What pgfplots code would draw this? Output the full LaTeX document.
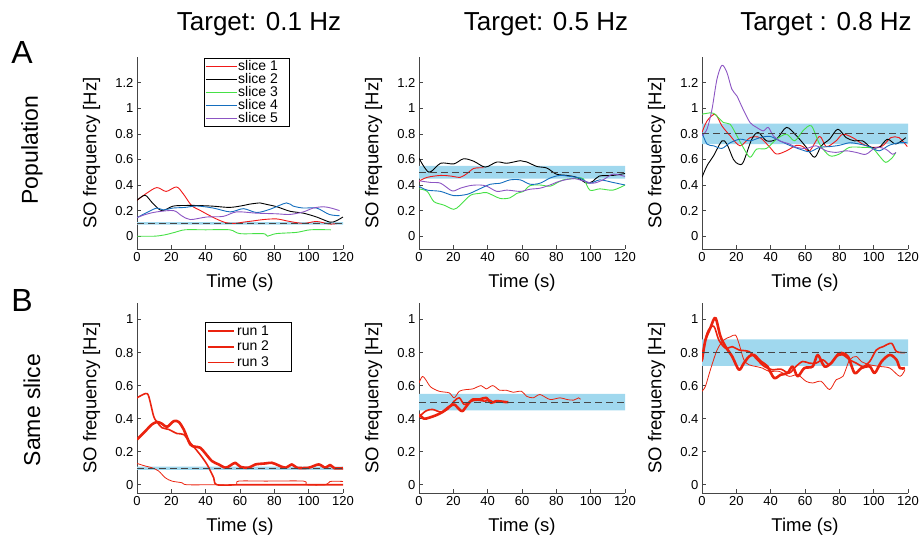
\documentclass[border=0pt]{standalone}
\usepackage{fontspec}
\setmainfont{Liberation Sans}
\usepackage{pgfplots}
\pgfplotsset{compat=1.18}

\definecolor{sRed}{RGB}{240,25,25}
\definecolor{sGreen}{RGB}{70,225,70}
\definecolor{sBlue}{RGB}{20,110,190}
\definecolor{sPurple}{RGB}{140,85,195}
\definecolor{runRed}{RGB}{235,35,15}
\definecolor{bandblue}{RGB}{160,216,238}
\definecolor{axgray}{RGB}{70,70,70}

\pgfplotsset{
  panel/.style={
    scale only axis, width=206pt,
    xmin=0, xmax=120, xtick={0,20,40,60,80,100,120},
    axis x line*=bottom, axis y line*=left,
    axis line style={-, axgray, line width=0.7pt},
    tick style={axgray, line width=0.6pt},
    tick align=inside, major tick length=4pt,
    tick label style={font=\fontsize{13}{15}\selectfont},
    /pgf/number format/assume math mode=true,
    xlabel={Time (s)}, ylabel={SO frequency [Hz]},
    every axis y label/.style={at={(axis description cs:-0.22,0.5)}, rotate=90, anchor=center, font=\fontsize{18.5}{20}\selectfont},
    every axis x label/.style={at={(axis description cs:0.5,0)}, yshift=-34pt, anchor=center, font=\fontsize{18.5}{20}\selectfont},
    every axis plot/.append style={line join=round},
  },
  popA/.style={panel, height=192pt, ymin=-0.1, ymax=1.4, ytick={0,0.2,0.4,0.6,0.8,1,1.2}},
  popB/.style={panel, height=190pt, ymin=-0.05, ymax=1.1, ytick={0,0.2,0.4,0.6,0.8,1}},
  sl/.style={smooth, tension=0.5, line width=0.9pt},
  run1/.style={smooth, tension=0.5, runRed, line width=2.6pt},
  run2/.style={smooth, tension=0.5, runRed, line width=1.6pt},
  run3/.style={smooth, tension=0.5, runRed, line width=0.8pt},
  dashline/.style={axgray, line width=1.1pt, dash pattern=on 7pt off 4pt},
}

\newcommand{\band}[2]{\addplot[draw=none, fill=bandblue, forget plot] coordinates {(0,#1) (120,#1) (120,#2) (0,#2) (0,#1)};}
\newcommand{\target}[1]{\addplot[dashline, forget plot] coordinates {(0,#1) (120,#1)};}

\begin{document}
\begin{tikzpicture}
\useasboundingbox (0,0) rectangle (922pt,-536pt);

\node[font=\fontsize{26}{28}\selectfont] at (259pt,-24pt) {Target: 0.1 Hz};
\node[font=\fontsize{26}{28}\selectfont] at (546pt,-24pt) {Target: 0.5 Hz};
\node[font=\fontsize{26}{28}\selectfont] at (826pt,-24pt) {Target : 0.8 Hz};
\node[font=\fontsize{32}{34}\selectfont] at (22pt,-52pt) {A};
\node[font=\fontsize{32}{34}\selectfont] at (22pt,-300pt) {B};
\node[rotate=90, font=\fontsize{23}{25}\selectfont] at (32pt,-150pt) {Population};
\node[rotate=90, font=\fontsize{23}{25}\selectfont] at (32pt,-410pt) {Same slice};

% ---------- A, 0.1 Hz
\begin{axis}[popA, at={(137pt,-249pt)}, anchor=south west,
  legend style={at={(rel axis cs:0.325,0.995)}, anchor=north west, draw=black, line width=0.7pt,
    font=\fontsize{14}{14}\selectfont, nodes={inner sep=1pt}, row sep=-0.6pt, inner sep=1pt},
  legend cell align=left,
  legend image code/.code={\draw[#1] (0pt,0pt) -- (31pt,0pt);}]
\band{0.09}{0.11}
\addplot[sl, sRed] coordinates {(0,0.28) (5,0.33) (11.5,0.38) (17,0.35) (23,0.385) (27,0.33) (31.8,0.24) (37,0.2) (42.5,0.16) (47,0.13) (52,0.105) (57,0.1) (62,0.11) (68,0.12) (73.6,0.13) (81.3,0.135) (89,0.115) (97,0.1) (104.6,0.115) (112,0.095) (117,0.1)};
\addplot[sl, black] coordinates {(0,0.28) (4.7,0.32) (9,0.26) (14.4,0.2) (21,0.235) (28,0.24) (34.8,0.24) (44,0.235) (54,0.225) (62,0.24) (65.4,0.25) (71.7,0.26) (75,0.25) (81.5,0.23) (89.1,0.195) (96.9,0.18) (104.6,0.15) (112.4,0.11) (116,0.12) (120,0.15)};
\addplot[sl, sGreen] coordinates {(0,0) (10,0) (16,0.01) (22,0.03) (28,0.05) (40,0.05) (54,0.05) (60,0.02) (73.6,0.02) (76,0.0) (81,0.02) (93,0.03) (101,0.05) (113,0.05)};
\addplot[sl, sBlue] coordinates {(0,0.145) (5,0.18) (11.5,0.22) (15.3,0.205) (21,0.22) (28,0.225) (34.8,0.236) (44.4,0.22) (54.3,0.19) (62,0.215) (69.7,0.185) (77.4,0.21) (87,0.26) (91,0.235) (96.9,0.22) (104.6,0.22) (112,0.17) (118,0.16)};
\addplot[sl, sPurple] coordinates {(0,0.145) (5,0.17) (11.5,0.19) (21.3,0.2) (26,0.16) (31,0.13) (40.6,0.15) (50.3,0.155) (58,0.19) (69.7,0.18) (81.3,0.175) (89,0.17) (96.9,0.19) (102.7,0.22) (108.6,0.23) (113,0.22) (118,0.2)};
\target{0.1}
\legend{\makebox[49pt][l]{slice 1},\makebox[49pt][l]{slice 2},\makebox[49pt][l]{slice 3},\makebox[49pt][l]{slice 4},\makebox[49pt][l]{slice 5}}
\end{axis}

% ---------- A, 0.5 Hz
\begin{axis}[popA, at={(419pt,-249pt)}, anchor=south west]
\band{0.45}{0.55}
\addplot[sl, sRed] coordinates {(0,0.43) (4.8,0.46) (12.6,0.475) (18.4,0.47) (24,0.46) (28,0.49) (32,0.53) (37.7,0.535)};
\addplot[sl, black] coordinates {(0,0.61) (5.8,0.5) (12.6,0.57) (20.3,0.565) (26,0.605) (32,0.585) (38.6,0.54) (45.4,0.58) (51.2,0.57) (59,0.59) (62.8,0.58) (68.6,0.545) (74.4,0.533) (80,0.485) (86,0.475) (91.8,0.46) (97.6,0.415) (101.4,0.43) (105,0.47) (113,0.475) (120,0.49)};
\addplot[sl, sGreen] coordinates {(0,0.37) (4.8,0.35) (8.7,0.27) (14.5,0.243) (20.3,0.21) (24,0.243) (30,0.32) (35.7,0.335) (39.6,0.34) (47.3,0.295) (53,0.3) (57,0.335) (60.9,0.35) (64.7,0.395) (70.5,0.4) (76.3,0.39) (80,0.414) (84,0.44) (89.9,0.45) (95.6,0.45) (99.5,0.36) (105.3,0.37) (113,0.36) (120,0.4)};
\addplot[sl, sBlue] coordinates {(0,0.39) (4.8,0.36) (12.6,0.35) (20.3,0.317) (28,0.327) (33.8,0.36) (41.5,0.406) (47.3,0.414) (53,0.44) (59,0.44) (64.7,0.406) (70.5,0.414) (76.3,0.454) (82,0.475) (88,0.467) (93.7,0.454) (99.5,0.414) (105.3,0.44) (113,0.42) (120,0.4)};
\addplot[sl, sPurple] coordinates {(0,0.433) (6.8,0.42) (12.6,0.414) (19.3,0.354) (24,0.375) (30,0.396) (35.7,0.4) (39.6,0.39) (45.4,0.35) (51.2,0.36) (59,0.35) (64.7,0.367) (70.5,0.375) (76.3,0.4) (82,0.43) (89.9,0.45) (95.6,0.433) (101.4,0.414) (107.2,0.44) (113,0.485) (120,0.467)};
\target{0.5}
\end{axis}

% ---------- A, 0.8 Hz
\begin{axis}[popA, at={(702pt,-249pt)}, anchor=south west]
\band{0.72}{0.88}
\addplot[sl, sRed] coordinates {(0,0.81) (2.9,0.9) (7.7,0.953) (11.6,0.862) (16.4,0.785) (22.2,0.706) (28,0.77) (33.8,0.77) (39.6,0.694) (43.4,0.642) (49.2,0.667) (55,0.71) (58.8,0.7) (62.7,0.667) (68.5,0.78) (72.4,0.7) (78.1,0.745) (82,0.797) (87.8,0.77) (93.6,0.72) (99.4,0.694) (105.2,0.706) (110,0.77) (114.8,0.77) (119.6,0.7)};
\addplot[sl, black] coordinates {(0,0.46) (2.9,0.55) (6.8,0.63) (11.6,0.745) (14.5,0.72) (18.3,0.6) (21.2,0.564) (24,0.577) (29,0.758) (32.8,0.81) (37.6,0.745) (43.4,0.758) (49.2,0.85) (55,0.785) (60.8,0.694) (65.6,0.616) (69.5,0.706) (74.3,0.758) (79.1,0.836) (84,0.77) (88.8,0.745) (93.6,0.745) (98.4,0.694) (103.2,0.694) (108,0.758) (112.9,0.72) (118.7,0.77)};
\addplot[sl, sGreen] coordinates {(0,0.953) (2.9,0.96) (6.8,0.96) (12.5,0.888) (16.4,0.875) (20.3,0.785) (24,0.694) (28,0.616) (31.8,0.68) (37.6,0.686) (43.4,0.758) (49.2,0.797) (54,0.745) (58.8,0.823) (63.7,0.862) (68.5,0.72) (74.3,0.629) (80,0.642) (85.9,0.694) (93.6,0.694) (99.4,0.686) (103.2,0.629) (107,0.577) (111,0.616) (112.9,0.655)};
\addplot[sl, sBlue] coordinates {(0,0.81) (2.9,0.72) (6.8,0.706) (11.6,0.686) (16.4,0.73) (22.2,0.758) (28,0.745) (33.8,0.77) (39.6,0.78) (45.3,0.745) (51,0.71) (57,0.68) (62.7,0.66) (68.5,0.694) (74.3,0.7) (80,0.71) (85.9,0.73) (91.6,0.72) (97.4,0.7) (103.2,0.667) (109,0.71) (114.8,0.73) (119.6,0.73)};
\addplot[sl, sPurple] coordinates {(0,0.785) (2.9,0.836) (5.8,0.99) (8.7,1.226) (11.6,1.335) (14.5,1.28) (17.4,1.148) (20.3,1.096) (24,0.99) (28,0.888) (31.8,0.85) (35.7,0.823) (38.6,0.85) (41.5,0.785) (45.3,0.745) (51,0.72) (55,0.694) (60.8,0.686) (66.6,0.706) (72.4,0.667) (78.1,0.655) (84,0.667) (89.7,0.655) (95.5,0.64) (101.3,0.694) (107,0.68) (111,0.64) (112.9,0.655)};
\target{0.8}
\end{axis}

% ---------- B, 0.1 Hz
\begin{axis}[popB, at={(137pt,-493pt)}, anchor=south west,
  legend style={at={(rel axis cs:0.33,0.9)}, anchor=north west, draw=black, line width=0.7pt,
    font=\fontsize{14}{14}\selectfont, nodes={inner sep=2.2pt}, row sep=0pt, inner sep=1pt},
  legend cell align=left,
  legend image code/.code={\draw[#1] (0pt,0pt) -- (26pt,0pt);}]
\band{0.09}{0.11}
\addplot[run1] coordinates {(0,0.274) (4.9,0.325) (8.7,0.365) (11.7,0.38) (14.6,0.369) (17.5,0.35) (21.4,0.385) (24.3,0.38) (27.2,0.335) (31,0.244) (34,0.23) (36.9,0.224) (39.8,0.19) (43.7,0.143) (47.6,0.123) (51.5,0.103) (54.4,0.117) (57.3,0.133) (60.2,0.109) (65,0.103) (69,0.123) (74.8,0.129) (78.6,0.133) (82.5,0.117) (86.4,0.103) (90.3,0.123) (93.2,0.103) (100,0.103) (105.8,0.123) (109.7,0.103) (112.5,0.12) (115,0.1) (120,0.1)};
\addplot[run2] coordinates {(0,0.526) (4.9,0.552) (6.8,0.536) (9.7,0.415) (11.7,0.379) (14.6,0.345) (18.4,0.335) (23.3,0.31) (27.2,0.304) (31,0.254) (35.9,0.194) (40.8,0.123) (44.7,0.042) (46.6,0.0) (60,0) (80,0) (100,0) (120,0)};
\addplot[run3] coordinates {(0,0.129) (4.9,0.113) (8.7,0.103) (12.6,0.083) (16.5,0.042) (20.4,0.022) (26.2,0.012) (29,0.0) (45,0) (57.3,0.0) (59.2,0.022) (75,0.022) (97,0.022) (99,0.0) (110,0.0) (112.5,0.02) (120,0.02)};
\target{0.1}
\legend{\makebox[51pt][l]{run 1},\makebox[51pt][l]{run 2},\makebox[51pt][l]{run 3}}
\end{axis}

% ---------- B, 0.5 Hz
\begin{axis}[popB, at={(419pt,-493pt)}, anchor=south west]
\band{0.45}{0.55}
\addplot[run3] coordinates {(0,0.616) (2,0.656) (3.9,0.636) (6.8,0.592) (11.7,0.566) (17.6,0.556) (20.5,0.526) (23.5,0.566) (27.4,0.576) (31.3,0.58) (36.2,0.6) (39.1,0.58) (43,0.6) (47,0.572) (50.9,0.572) (54.8,0.56) (59.7,0.566) (62.6,0.536) (66.5,0.526) (70.5,0.546) (76.3,0.516) (82.2,0.526) (86.1,0.516) (90,0.512) (93,0.526) (94,0.516)};
\addplot[run2] coordinates {(0,0.41) (3.9,0.446) (7.8,0.456) (12.7,0.44) (16.6,0.456) (20.5,0.506) (23.5,0.526) (26.4,0.486) (30.3,0.506) (34.2,0.512) (38.2,0.506) (41.1,0.512) (43,0.5)};
\addplot[run1] coordinates {(0,0.426) (2.9,0.4) (5.9,0.406) (9.8,0.42) (13.7,0.44) (17.6,0.472) (20.5,0.486) (23.5,0.456) (25.4,0.446) (28.4,0.486) (31.3,0.516) (35.2,0.516) (39.1,0.526) (42,0.496) (45,0.506) (50.9,0.5) (52,0.5)};
\target{0.5}
\end{axis}

% ---------- B, 0.8 Hz
\begin{axis}[popB, at={(702pt,-493pt)}, anchor=south west]
\band{0.72}{0.88}
\addplot[run3] coordinates {(0,0.566) (2,0.596) (4.9,0.696) (8.8,0.816) (12.7,0.876) (16.6,0.896) (19.5,0.906) (21.5,0.856) (24.4,0.756) (27.4,0.726) (31.3,0.716) (35.2,0.706) (39.1,0.686) (45,0.686) (50.8,0.656) (55.7,0.666) (60.6,0.626) (64.5,0.616) (69.4,0.626) (74.3,0.576) (78.2,0.636) (82.1,0.656) (86,0.756) (89.9,0.776) (92.8,0.746) (97.7,0.726) (103.6,0.716) (109.4,0.706) (115.3,0.656) (118.2,0.696)};
\addplot[run2] coordinates {(0,0.746) (2.9,0.916) (6.8,0.96) (9.8,0.876) (13.7,0.826) (17.6,0.836) (21.5,0.816) (27.4,0.806) (31.3,0.766) (36.2,0.716) (41,0.696) (45.9,0.7) (50.8,0.676) (54.7,0.716) (58.6,0.746) (62.5,0.736) (66.4,0.736) (70.4,0.756) (74.3,0.726) (78.2,0.776) (82,0.786) (86,0.756) (89.9,0.736) (93.8,0.716) (97.7,0.746) (101.6,0.816) (105.5,0.836) (110.4,0.856) (113.3,0.806) (118.2,0.8)};
\addplot[run1] coordinates {(0,0.756) (2,0.876) (4.9,0.95) (7.8,1.01) (10.7,0.9) (13.7,0.836) (17.6,0.776) (21.5,0.696) (24.4,0.736) (27.4,0.776) (30.3,0.786) (34.2,0.746) (38.1,0.716) (42,0.646) (45.9,0.666) (49.8,0.676) (52.8,0.716) (55.7,0.656) (59.6,0.706) (64.5,0.716) (67.4,0.786) (71.3,0.716) (75.2,0.736) (80.1,0.796) (85,0.776) (88.9,0.676) (92.8,0.706) (97.7,0.716) (100.6,0.676) (104.6,0.746) (109.4,0.786) (113.3,0.756) (115.3,0.706) (118.2,0.706)};
\target{0.8}
\end{axis}
\end{tikzpicture}
\end{document}
